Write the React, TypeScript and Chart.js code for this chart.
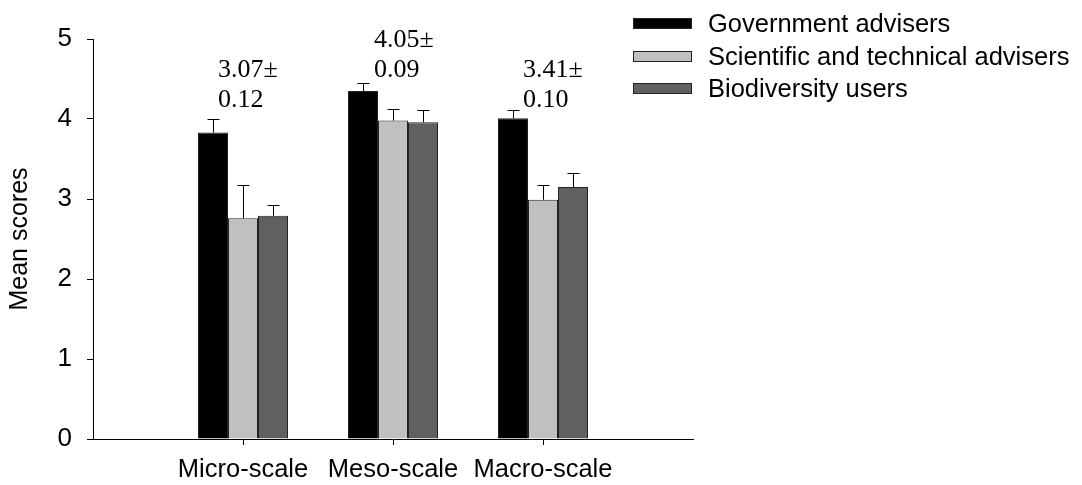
import React, { useEffect, useRef } from 'react';
import { Chart, registerables } from 'chart.js';

Chart.register(...registerables);

// ---- data ----
const categories = ['', 'Micro-scale', 'Meso-scale', 'Macro-scale', ''];
const seriesNames = ['Government advisers', 'Scientific and technical advisers', 'Biodiversity users'];
const governmentMeans = [null, 3.83, 4.35, 4.01, null];
const scientificMeans = [null, 2.76, 3.98, 2.99, null];
const biodiversityMeans = [null, 2.79, 3.96, 3.15, null];
const governmentErrors = [null, 0.17, 0.1, 0.1, null];
const scientificErrors = [null, 0.41, 0.15, 0.19, null];
const biodiversityErrors = [null, 0.14, 0.15, 0.17, null];
const groupMeanLabels: (string[] | null)[] = [null, ['3.07±', '0.12'], ['4.05±', '0.09'], ['3.41±', '0.10'], null];
const yTickValues = [0, 1, 2, 3, 4, 5];

// ---- styling / layout ----
const seriesColors = ['#000000', '#c0c0c0', '#606060'];
const sansFont = "'Liberation Sans', Arial, sans-serif";
const serifFont = "'Liberation Serif', 'Times New Roman', serif";
// annotation anchor: y (data units) of first text baseline, x offset (px) from category centre
const annotationLayout = [null, { y: 4.52, dx: -25 }, { y: 4.9, dx: -19 }, { y: 4.52, dx: -20 }, null];

const meansList = [governmentMeans, scientificMeans, biodiversityMeans];
const errorsList = [governmentErrors, scientificErrors, biodiversityErrors];

const errorBarPlugin = {
  id: 'errorBars',
  afterDatasetsDraw(chart: any) {
    const ctx = chart.ctx;
    const yScale = chart.scales.y;
    ctx.save();
    ctx.strokeStyle = '#000';
    ctx.lineWidth = 1;
    chart.data.datasets.forEach((ds: any, i: number) => {
      const meta = chart.getDatasetMeta(i);
      meta.data.forEach((bar: any, j: number) => {
        const m = meansList[i][j];
        const e = errorsList[i][j];
        if (m == null || e == null) return;
        const x = Math.round(bar.x) + 0.5;
        const yTop = Math.round(yScale.getPixelForValue(m + e)) + 0.5;
        const yBar = yScale.getPixelForValue(m);
        ctx.beginPath();
        ctx.moveTo(x, yBar);
        ctx.lineTo(x, yTop);
        ctx.moveTo(x - 6, yTop);
        ctx.lineTo(x + 6, yTop);
        ctx.stroke();
      });
    });
    ctx.restore();
  },
};

const annotationPlugin = {
  id: 'groupAnnotations',
  afterDraw(chart: any) {
    const ctx = chart.ctx;
    const xScale = chart.scales.x;
    const yScale = chart.scales.y;
    ctx.save();
    ctx.fillStyle = '#000';
    ctx.font = `26px ${serifFont}`;
    ctx.textAlign = 'left';
    ctx.textBaseline = 'alphabetic';
    groupMeanLabels.forEach((lines, j) => {
      const lay = annotationLayout[j];
      if (!lines || !lay) return;
      const x = xScale.getPixelForValue(j) + lay.dx;
      const y0 = yScale.getPixelForValue(lay.y);
      lines.forEach((t, k) => ctx.fillText(t, x, y0 + k * 29.5));
    });
    ctx.restore();
  },
};

const legendPlugin = {
  id: 'customLegend',
  afterDraw(chart: any) {
    const ctx = chart.ctx;
    const boxLeft = 633;
    const boxW = 59;
    const boxH = 11;
    const textX = 708;
    const rowCentres = [23.5, 56, 88.5];
    ctx.save();
    ctx.font = `25.5px ${sansFont}`;
    ctx.textAlign = 'left';
    ctx.textBaseline = 'alphabetic';
    seriesNames.forEach((name, i) => {
      const cy = rowCentres[i];
      const top = Math.round(cy - boxH / 2);
      ctx.fillStyle = seriesColors[i];
      ctx.fillRect(boxLeft, top, boxW, boxH);
      ctx.strokeStyle = '#222';
      ctx.lineWidth = 1;
      ctx.strokeRect(boxLeft + 0.5, top + 0.5, boxW - 1, boxH - 1);
      ctx.fillStyle = '#000';
      ctx.fillText(name, textX, cy + 8.6);
    });
    ctx.restore();
  },
};

export default function App() {
  const canvasRef = useRef<HTMLCanvasElement | null>(null);

  useEffect(() => {
    if (!canvasRef.current) return;
    const chart = new Chart(canvasRef.current, {
      type: 'bar',
      data: {
        labels: categories,
        datasets: seriesNames.map((name, i) => ({
          label: name,
          data: meansList[i] as any,
          backgroundColor: seriesColors[i],
          borderColor: '#222',
          borderWidth: 1,
          categoryPercentage: 0.6,
          barPercentage: 1.0,
        })),
      },
      options: {
        animation: false,
        responsive: true,
        maintainAspectRatio: false,
        layout: { padding: { left: 0, top: 39, right: 389, bottom: 0 } },
        plugins: {
          legend: { display: false },
          tooltip: { enabled: false },
        },
        scales: {
          x: {
            type: 'category',
            offset: false,
            grid: {
              offset: false,
              drawOnChartArea: false,
              tickLength: 6,
              color: (c: any) => (c.index === 0 || c.index === categories.length - 1 ? 'rgba(0,0,0,0)' : '#000'),
            },
            border: { display: true, color: '#000', width: 1 },
            ticks: {
              autoSkip: false,
              maxRotation: 0,
              color: '#000',
              padding: 10,
              font: { family: sansFont, size: 25.5 },
            },
            afterFit(scale: any) {
              scale.height = 46;
            },
          },
          y: {
            min: 0,
            max: 5,
            afterBuildTicks(scale: any) {
              scale.ticks = yTickValues.map((v) => ({ value: v }));
            },
            grid: { drawOnChartArea: false, tickLength: 6, color: '#000' },
            border: { display: true, color: '#000', width: 1 },
            ticks: {
              color: '#000',
              padding: 15,
              font: { family: sansFont, size: 26 },
            },
            title: {
              display: true,
              text: 'Mean scores',
              color: '#000',
              font: { family: sansFont, size: 25 },
              padding: { top: 5, bottom: 0 },
            },
            afterFit(scale: any) {
              scale.width = 93;
            },
          },
        },
      },
      plugins: [errorBarPlugin, annotationPlugin, legendPlugin],
    });
    return () => chart.destroy();
  }, []);

  return (
    <div style={{ position: 'absolute', left: 0, top: 0, width: 1082, height: 485, background: '#fff' }}>
      <canvas ref={canvasRef} />
    </div>
  );
}
